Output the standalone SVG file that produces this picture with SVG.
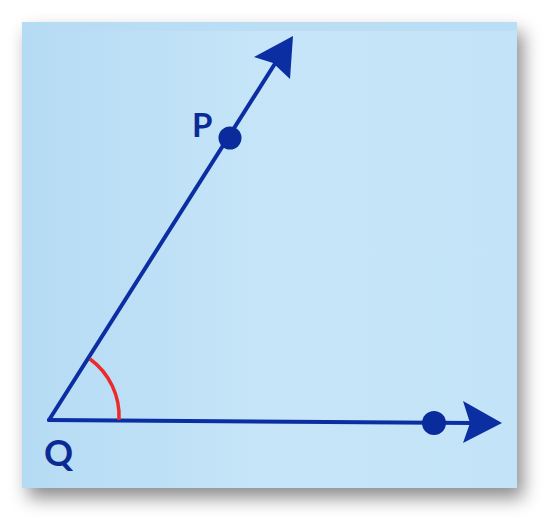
<svg xmlns="http://www.w3.org/2000/svg" width="558" height="530" viewBox="0 0 558 530">
  <defs>
    <linearGradient id="bg" x1="0" y1="0" x2="1" y2="0">
      <stop offset="0" stop-color="#b5dbf4"/>
      <stop offset="0.5" stop-color="#c6e5f8"/>
      <stop offset="1" stop-color="#c3e3f8"/>
    </linearGradient>
    <filter id="shadow" x="-10%" y="-10%" width="125%" height="125%">
      <feDropShadow dx="6" dy="10" stdDeviation="9" flood-color="#000" flood-opacity="0.45"/>
    </filter>
    <style>
      .ray { stroke: #0b2fa3; stroke-width: 4; fill: none; stroke-linecap: round; }
      .head { fill: #0b2fa3; }
      .dot { fill: #0a2b9c; }
      .arc { stroke: #ec2a2a; stroke-width: 3.5; fill: none; }
      .lbl { font-family: "Lato", "Open Sans", "Liberation Sans", sans-serif; font-weight: bold; fill: #0a2a96; }
    </style>
  </defs>
  <rect x="0" y="0" width="558" height="530" fill="#ffffff"/>
  <rect x="22" y="22" width="495" height="466" fill="url(#bg)" filter="url(#shadow)"/>
  <rect x="22" y="22" width="495" height="9" fill="#b6dbf3" opacity="0.7"/>
  <g id="connectors">
    <line class="ray" x1="49" y1="420" x2="276" y2="62"/>
    <line class="ray" x1="49" y1="420" x2="472" y2="423"/>
    <path class="arc" d="M 90 359 A 71 71 0 0 1 119 420"/>
  </g>
  <g id="arrowP">
    <polygon class="head" points="293,36 290,79 273,63 254,57"/>
  </g>
  <g id="arrowR">
    <polygon class="head" points="502,423 463,443 470,423 463,401"/>
  </g>
  <g id="P">
    <circle class="dot" cx="230" cy="138" r="11.5"/>
    <text class="lbl" x="192" y="137" font-size="33">P</text>
  </g>
  <g id="R">
    <circle class="dot" cx="434" cy="423" r="12"/>
  </g>
  <g id="Q">
    <text class="lbl" x="44" y="466" font-size="36">Q</text>
  </g>
</svg>
